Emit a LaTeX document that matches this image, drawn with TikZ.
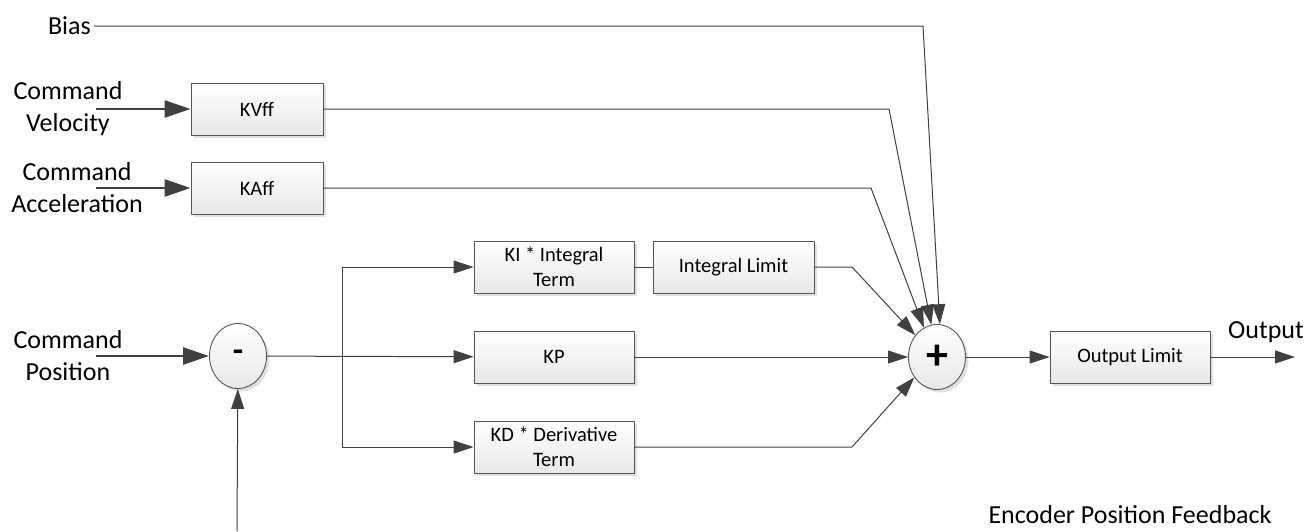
\documentclass[tikz,border=0pt]{standalone}
\usepackage{fontspec}
\setmainfont{Carlito}
\usetikzlibrary{arrows.meta,shapes.geometric,shadows}

\definecolor{linegray}{HTML}{404040}
\definecolor{boxgray}{HTML}{555555}

\tikzset{
  block/.style={draw=boxgray, line width=0.9pt, top color=white, bottom color=black!9,
    minimum width=160pt, minimum height=52pt, align=center, inner sep=2pt,
    font=\fontsize{20.5}{25}\selectfont,
    drop shadow={shadow xshift=3pt, shadow yshift=-3pt, fill=black!12, opacity=1}},
  sumnode/.style={draw=boxgray, ellipse, line width=0.9pt, top color=white, bottom color=black!9,
    minimum width=57pt, minimum height=65pt, inner sep=0pt,
    font=\fontsize{34}{34}\selectfont\bfseries,
    drop shadow={shadow xshift=3pt, shadow yshift=-3pt, fill=black!12, opacity=1}},
  lbl/.style={align=center, inner sep=3pt, font=\fontsize{26}{32}\selectfont},
  sig/.style={draw=linegray, line width=1pt, -{Triangle[length=20pt,width=13pt]}},
  bigsig/.style={draw=linegray, line width=2.6pt, -{Triangle[length=26pt,width=17pt]}}
}

\begin{document}
\begin{tikzpicture}[x=1pt, y=-1pt, line join=round]
\useasboundingbox (0,0) rectangle (1307,531);

% Draw the feed-forward blocks
\node[block, minimum width=132pt] (kvff) at (257,109) {KVff};
\node[block, minimum width=132pt] (kaff) at (257,188) {KAff};

% Draw the PID blocks
\node[sumnode] (minus) at (238,356) {-};
\node[block] (ki) at (554,267) {KI * Integral\\Term};
\node[block] (kp) at (554,357) {KP};
\node[block] (kd) at (554,447) {KD * Derivative\\Term};
\node[block, minimum width=161pt] (ilim) at (733.5,267) {Integral Limit};
\node[sumnode, font=\fontsize{44}{44}\selectfont\bfseries] (plus) at (937,357) {+};
\node[block] (olim) at (1130,357) {Output Limit};

% Draw the labels
\node[lbl, anchor=east] (bias) at (94,26) {Bias};
\node[lbl] (velo) at (68,109) {Command\\Velocity};
\node[lbl] (accel) at (77,188) {Command\\Acceleration};
\node[lbl] (pos) at (68,356) {Command\\Position};
\node[lbl] (out) at (1266,332) {Output};
\node[lbl] (enc) at (1130,515) {Encoder Position Feedback};

% Free ends and bends
\coordinate (vin) at (96,109);
\coordinate (ain) at (96,188);
\coordinate (pin) at (96,356);
\coordinate (fbin) at (237,531);
\coordinate (br) at (342,356);
\coordinate (bbend) at (923,26);
\coordinate (vbend) at (889,109);
\coordinate (abend) at (871,188);
\coordinate (ibend) at (852,267);
\coordinate (dbend) at (852,447);
\coordinate (oend) at (1295,357);

% Draw the inputs
\draw[bigsig] (vin) -- (kvff);
\draw[bigsig] (ain) -- (kaff);
\draw[bigsig] (pin) -- (minus);
\draw[sig] (fbin) -- (minus);

% Draw the error branches
\draw[sig] (minus) -- (kp);
\draw[sig] (br) |- (ki);
\draw[sig] (br) |- (kd);
\draw[draw=linegray, line width=1pt] (ki) -- (ilim);

% Draw the lines into the sum
\draw[sig] (bias.east) -- (bbend) -- (plus.85);
\draw[sig] (kvff) -- (vbend) -- (plus.100);
\draw[sig] (kaff) -- (abend) -- (plus.114);
\draw[sig] (ilim) -- (ibend) -- (plus.135);
\draw[sig] (kp) -- (plus);
\draw[sig] (kd) -- (dbend) -- (plus.222);

% Draw the output
\draw[sig] (plus) -- (olim);
\draw[sig] (olim) -- (oend);

\end{tikzpicture}
\end{document}
